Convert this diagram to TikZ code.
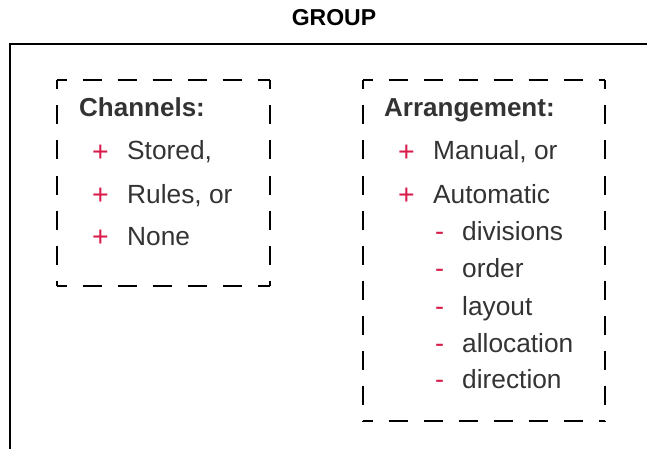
\documentclass[tikz,border=0pt]{standalone}
\usepackage{fontspec}
\setmainfont{Liberation Sans}
\definecolor{txt}{HTML}{333333}
\definecolor{mark}{HTML}{D81B4A}
\tikzset{
  x=1pt,y=1pt,
  frameline/.style={line width=1.4pt,black},
  dashside/.style={line width=1.3pt,black,dash pattern=on 19pt off 16pt,dash phase=9.5pt},
  heading/.style={anchor=base west,inner sep=0pt,text=txt,font=\fontsize{26}{30}\selectfont\bfseries},
  item/.style={anchor=base west,inner sep=0pt,text=txt,font=\fontsize{26.3}{30}\selectfont},
  plusmark/.style={anchor=base west,inner sep=0pt,text=mark,font=\fontsize{28.5}{32}\selectfont},
  dashmark/.style={anchor=base west,inner sep=0pt,text=mark,font=\fontsize{27}{32}\selectfont},
  title/.style={anchor=base,inner sep=0pt,text=black,font=\fontsize{23}{28}\selectfont\bfseries}
}
\begin{document}
\begin{tikzpicture}
\useasboundingbox (0,0) rectangle (647,-449);
% title and outer frame
\node[title] (group) at (334,-26) {GROUP};
\coordinate (frameTR) at (647,-44);
\coordinate (frameBL) at (10,-449);
\draw[frameline] (frameTR) -| (frameBL);
% left dashed box
\coordinate (l1) at (57,-80);
\coordinate (l2) at (270,-80);
\coordinate (l3) at (270,-286);
\coordinate (l4) at (57,-286);
\draw[dashside] (l1) -- (l2);
\draw[dashside] (l2) -- (l3);
\draw[dashside] (l4) -- (l3);
\draw[dashside] (l1) -- (l4);
% right dashed box
\coordinate (r1) at (363,-80);
\coordinate (r2) at (605,-80);
\coordinate (r3) at (605,-421);
\coordinate (r4) at (363,-421);
\draw[dashside] (r1) -- (r2);
\draw[dashside] (r2) -- (r3);
\draw[dashside] (r4) -- (r3);
\draw[dashside] (r1) -- (r4);
% Channels
\node[heading] (chh) at (79,-117) {Channels:};
\node[plusmark] (cp1) at (92,-161) {+};
\node[item] (ct1) at (127,-160) {Stored,};
\node[plusmark] (cp2) at (92,-204) {+};
\node[item] (ct2) at (127,-203) {Rules, or};
\node[plusmark] (cp3) at (92,-246) {+};
\node[item] (ct3) at (127,-245) {None};
% Arrangement
\node[heading] (arh) at (384,-117) {Arrangement:};
\node[plusmark] (ap1) at (398,-161) {+};
\node[item] (at1) at (433,-160) {Manual, or};
\node[plusmark] (ap2) at (398,-204) {+};
\node[item] (at2) at (433,-203) {Automatic};
\node[dashmark] (am1) at (435,-240) {-};
\node[item] (as1) at (462,-240) {divisions};
\node[dashmark] (am2) at (435,-277) {-};
\node[item] (as2) at (462,-277) {order};
\node[dashmark] (am3) at (435,-315) {-};
\node[item] (as3) at (462,-315) {layout};
\node[dashmark] (am4) at (435,-352) {-};
\node[item] (as4) at (462,-352) {allocation};
\node[dashmark] (am5) at (435,-388) {-};
\node[item] (as5) at (462,-388) {direction};
\end{tikzpicture}
\end{document}
